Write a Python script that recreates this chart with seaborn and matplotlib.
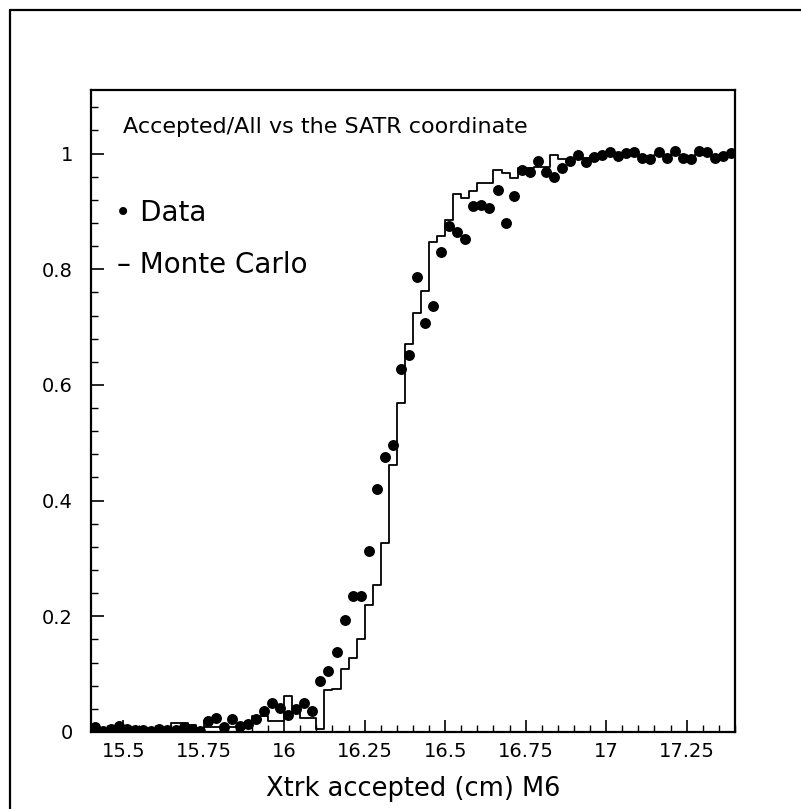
import numpy as np
import pandas as pd
import matplotlib
matplotlib.use("Agg")
import matplotlib.pyplot as plt
from matplotlib.lines import Line2D
from matplotlib.ticker import MultipleLocator
import seaborn as sns

# Binning: 80 bins of 0.025 cm between 15.4 and 17.4
x_lo, x_hi, n_bins = 15.4, 17.4, 80

# Accepted/All fraction for data, one value per bin
data_frac = [
    0.008, 0.002, 0.006, 0.010, 0.005, 0.004, 0.004, 0.001, 0.006, 0.003,
    0.004, 0.008, 0.006, 0.001, 0.019, 0.025, 0.008, 0.023, 0.010, 0.013,
    0.023, 0.036, 0.050, 0.042, 0.030, 0.040, 0.050, 0.037, 0.088, 0.105,
    0.139, 0.193, 0.235, 0.235, 0.313, 0.420, 0.476, 0.496, 0.628, 0.651,
    0.787, 0.707, 0.736, 0.830, 0.875, 0.865, 0.853, 0.909, 0.911, 0.906,
    0.937, 0.880, 0.926, 0.972, 0.968, 0.987, 0.968, 0.960, 0.975, 0.987,
    0.997, 0.985, 0.994, 0.997, 1.002, 0.995, 1.001, 1.002, 0.993, 0.991,
    1.002, 0.993, 1.004, 0.993, 0.990, 1.004, 1.002, 0.993, 0.995, 1.001,
]

# Accepted/All fraction for Monte Carlo, one value per bin
mc_frac = [
    0.005, 0.005, 0.005, 0.005, 0.005, 0.006, 0.006, 0.006, 0.006, 0.006,
    0.015, 0.015, 0.012, 0.004, 0.008, 0.008, 0.008, 0.008, 0.008, 0.008,
    0.027, 0.027, 0.019, 0.019, 0.063, 0.039, 0.025, 0.025, 0.005, 0.072,
    0.075, 0.109, 0.128, 0.160, 0.219, 0.254, 0.327, 0.461, 0.569, 0.671,
    0.725, 0.762, 0.847, 0.857, 0.886, 0.930, 0.923, 0.935, 0.949, 0.950,
    0.971, 0.967, 0.958, 0.975, 0.975, 0.976, 0.976, 0.997, 0.990, 0.986,
    0.990, 0.992, 0.995, 0.996, 0.998, 0.997, 0.999, 0.998, 0.996, 0.995,
    0.998, 0.996, 0.999, 0.997, 0.995, 0.999, 0.998, 0.996, 0.997, 0.999,
]

x_ticks = [15.5, 15.75, 16.0, 16.25, 16.5, 16.75, 17.0, 17.25]
x_tick_labels = ["15.5", "15.75", "16", "16.25", "16.5", "16.75", "17", "17.25"]
y_ticks = [0, 0.2, 0.4, 0.6, 0.8, 1.0]
y_tick_labels = ["0", "0.2", "0.4", "0.6", "0.8", "1"]

bin_w = (x_hi - x_lo) / n_bins
centers = [x_lo + bin_w * (i + 0.5) for i in range(n_bins)]
df = pd.DataFrame({"x": centers, "data": data_frac, "mc": mc_frac})

sns.set_theme(style="ticks")
plt.rcParams["font.family"] = ["DejaVu Sans"]
plt.rcParams["text.color"] = "black"

fig = plt.figure(figsize=(8.01, 8.09), dpi=100)
ax = fig.add_axes([0.1136, 0.0952, 0.804, 0.7936])

# Monte Carlo as a step histogram weighted by the fraction
sns.histplot(data=df, x="x", weights="mc", bins=n_bins, binrange=(x_lo, x_hi),
             element="step", fill=False, color="black", linewidth=1.3, ax=ax)
# Data as filled circles at bin centres
sns.scatterplot(data=df, x="x", y="data", color="black", s=62,
                edgecolor="black", linewidth=0, ax=ax, zorder=3)

ax.set_xlim(x_lo, x_hi)
ax.set_ylim(0, 1.11)
ax.set_xticks(x_ticks)
ax.set_xticklabels(x_tick_labels)
ax.set_yticks(y_ticks)
ax.set_yticklabels(y_tick_labels)
ax.xaxis.set_minor_locator(MultipleLocator(0.05))
ax.yaxis.set_minor_locator(MultipleLocator(0.04))
ax.tick_params(which="major", direction="in", length=9, width=1.2,
               labelsize=14, colors="black", labelcolor="black", pad=7)
ax.tick_params(which="minor", direction="in", length=5, width=1.0,
               colors="black")
ax.tick_params(axis="y", pad=13)
for sp in ax.spines.values():
    sp.set_visible(True)
    sp.set_linewidth(1.6)
    sp.set_color("black")

ax.set_xlabel("Xtrk accepted (cm) M6", fontsize=18.5, labelpad=11,
              color="black")
ax.set_ylabel("")

ax.text(0.05, 0.942, "Accepted/All vs the SATR coordinate",
        transform=ax.transAxes, fontsize=16, va="center", ha="left",
        color="black")
ax.text(0.038, 0.808, "\u2022 Data", transform=ax.transAxes,
        fontsize=20, va="center", ha="left", color="black")
ax.text(0.04, 0.728, "\u2013 Monte Carlo", transform=ax.transAxes,
        fontsize=20, va="center", ha="left", color="black")

# Page frame on the left and top edges
fig.add_artist(Line2D([10 / 801, 10 / 801], [0, 1 - 10 / 809],
                      transform=fig.transFigure, color="black", lw=1.6))
fig.add_artist(Line2D([10 / 801, 1], [1 - 10 / 809, 1 - 10 / 809],
                      transform=fig.transFigure, color="black", lw=1.6))

fig.savefig("out.png", dpi=100)
